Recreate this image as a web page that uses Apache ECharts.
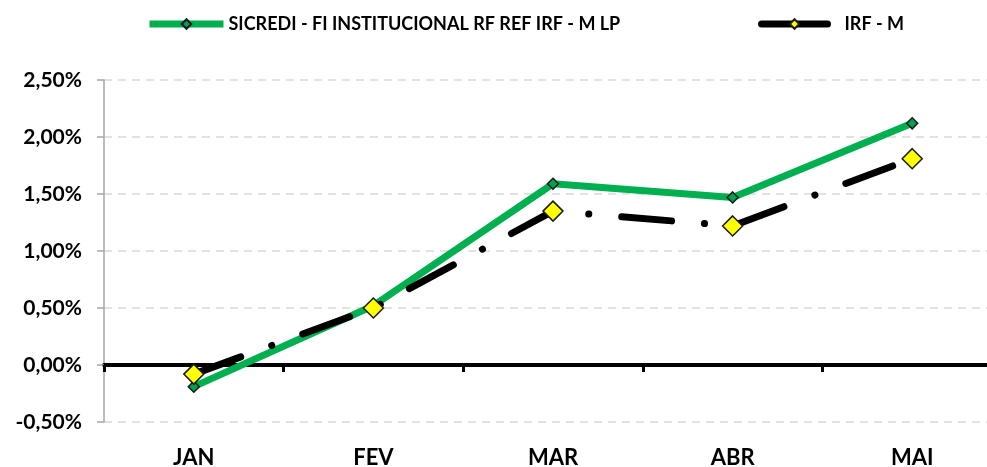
<!DOCTYPE html>
<html>
<head>
<meta charset="utf-8">
<script src="https://cdn.jsdelivr.net/npm/echarts@6/dist/echarts.min.js"></script>
<style>html,body{margin:0;padding:0;background:#fff}#c{width:987px;height:467px}</style>
</head>
<body>
<div id="c"></div>
<script>
const categories = ['JAN', 'FEV', 'MAR', 'ABR', 'MAI'];
const sicrediValues = [-0.19, 0.52, 1.59, 1.47, 2.12];
const irfValues = [-0.08, 0.50, 1.35, 1.22, 1.81];
const seriesNames = ['SICREDI - FI INSTITUCIONAL RF REF IRF - M LP', 'IRF - M'];
const yTicks = { min: -0.5, max: 2.5, interval: 0.5 };

const FONT = 'Lato';
const chart = echarts.init(document.getElementById('c'), null, { renderer: 'canvas' });
chart.setOption({
  animation: false,
  backgroundColor: '#ffffff',
  textStyle: { fontFamily: FONT },
  legend: [
    {
      data: [seriesNames[0]], left: 141, top: 10, itemWidth: 74, itemHeight: 12, itemGap: 10,
      textStyle: { fontFamily: FONT, fontWeight: 'bold', fontSize: 18, color: '#000' },
      lineStyle: { type: 'solid', width: 7 }
    },
    {
      data: [seriesNames[1]], left: 753, top: 10, itemWidth: 66, itemHeight: 12, itemGap: 10,
      textStyle: { fontFamily: FONT, fontWeight: 'bold', fontSize: 18, color: '#000', padding: [0, 0, 0, 12] },
      lineStyle: { type: 'solid', width: 7 }
    }
  ],
  grid: { left: 104, top: 80, width: 898, height: 342, containLabel: false, outerBoundsMode: 'none' },
  xAxis: [
    {
      type: 'category', data: categories, position: 'bottom',
      axisLine: { show: false, onZero: false }, axisTick: { show: false },
      axisLabel: { fontFamily: FONT, fontWeight: 'bold', fontSize: 22, color: '#000', margin: 25 }
    },
    {
      type: 'category', data: categories, position: 'top',
      axisLine: { show: true, onZero: true, lineStyle: { color: '#000', width: 4 } },
      axisTick: { show: true, inside: true, interval: 0, length: 7, lineStyle: { color: '#000', width: 3 } },
      axisLabel: { show: false }
    }
  ],
  yAxis: {
    type: 'value', min: yTicks.min, max: yTicks.max, interval: yTicks.interval,
    axisLine: { show: true, lineStyle: { color: '#a6a6a6', width: 1.5 } },
    axisTick: { show: true, length: 7, lineStyle: { color: '#a6a6a6', width: 1.5 } },
    splitLine: { show: true, lineStyle: { color: '#d9d9d9', width: 1.5, type: [8, 6] } },
    axisLabel: {
      fontFamily: FONT, fontWeight: 'bold', fontSize: 21, color: '#000', margin: 22,
      formatter: v => v.toFixed(2).replace('.', ',') + '%'
    }
  },
  series: [
    {
      name: seriesNames[0], type: 'line', data: sicrediValues, xAxisIndex: 0,
      symbol: 'diamond', symbolSize: 11,
      lineStyle: { color: '#00b050', width: 7 },
      itemStyle: { color: '#00a050', borderColor: '#1a1a1a', borderWidth: 1.5 },
      z: 3
    },
    {
      name: seriesNames[1], type: 'line', data: irfValues, xAxisIndex: 0,
      symbol: 'diamond', symbolSize: 20,
      lineStyle: { color: '#000', width: 7, type: [50, 33, 0.1, 33], cap: 'round' },
      itemStyle: { color: '#ffff00', borderColor: '#1a1a1a', borderWidth: 1.5 },
      z: 4
    }
  ]
});
</script>
</body>
</html>
